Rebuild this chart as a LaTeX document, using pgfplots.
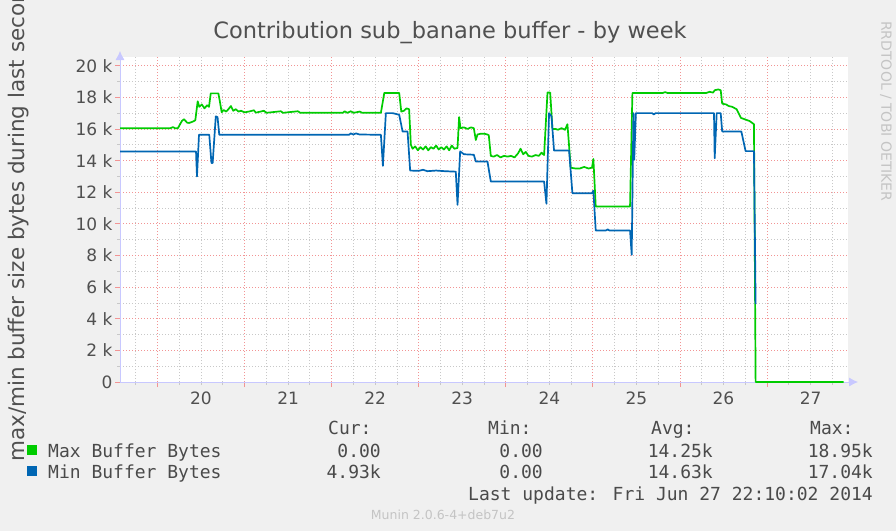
\documentclass[border=0pt]{standalone}
\usepackage{fontspec}
\setmainfont{DejaVu Sans}
\newfontfamily\monofont{DejaVu Sans Mono}
\usepackage{pgfplots}
\pgfplotsset{compat=1.18}
\usetikzlibrary{arrows.meta}
\definecolor{bg}{HTML}{F0F0F0}
\definecolor{maxc}{HTML}{00CC00}
\definecolor{minc}{HTML}{0066B3}
\definecolor{txt}{HTML}{505050}
\definecolor{legtxt}{HTML}{4A4A4A}
\definecolor{axisc}{HTML}{C8C8FF}
\definecolor{mgrid}{HTML}{F29494}
\definecolor{sgrid}{HTML}{C8C8C8}
\definecolor{faint}{HTML}{C4C4C4}

\pgfplotstableread{
d v
19.570 16.05
20.150 16.05
20.179 16.12
20.200 16.05
20.235 16.05
20.280 16.50
20.305 16.62
20.340 16.40
20.362 16.38
20.400 16.45
20.435 16.55
20.462 17.75
20.480 17.40
20.510 17.55
20.540 17.30
20.570 17.50
20.592 17.40
20.612 18.25
20.700 18.25
20.718 17.70
20.738 17.05
20.760 17.20
20.790 17.10
20.815 17.25
20.844 17.45
20.870 17.15
20.900 17.25
20.930 17.10
20.960 17.15
21.000 17.05
21.050 17.10
21.108 17.18
21.130 17.03
21.223 17.15
21.250 17.02
21.418 17.12
21.440 17.02
21.613 17.12
21.640 17.02
22.130 17.02
22.150 17.12
22.180 17.02
22.221 17.12
22.250 17.02
22.325 17.10
22.350 17.02
22.566 17.02
22.605 18.28
22.776 18.28
22.800 17.10
22.830 17.15
22.860 17.30
22.890 17.25
22.910 15.00
22.930 14.75
22.960 14.90
22.990 14.65
23.020 14.85
23.050 14.70
23.080 14.90
23.110 14.65
23.140 14.85
23.170 14.75
23.200 14.95
23.230 14.70
23.260 14.85
23.290 14.70
23.320 14.90
23.350 14.65
23.380 14.95
23.410 14.75
23.446 14.80
23.464 16.75
23.480 16.05
23.520 16.10
23.560 16.00
23.600 16.10
23.633 16.05
23.656 15.30
23.675 15.65
23.713 15.70
23.750 15.70
23.790 15.65
23.805 15.60
23.828 14.30
23.860 14.25
23.900 14.35
23.940 14.20
23.980 14.30
24.020 14.25
24.060 14.30
24.100 14.20
24.140 14.45
24.170 14.75
24.200 14.40
24.230 14.55
24.260 14.30
24.300 14.25
24.340 14.35
24.380 14.30
24.410 14.50
24.440 14.35
24.479 18.30
24.510 18.30
24.536 16.00
24.570 16.00
24.600 15.95
24.640 16.05
24.680 15.95
24.708 16.30
24.746 13.55
24.800 13.50
24.850 13.50
24.900 13.60
24.950 13.50
24.990 13.55
25.006 14.10
25.033 11.10
25.427 11.10
25.454 18.27
25.800 18.27
25.830 18.33
25.860 18.27
26.300 18.27
26.340 18.35
26.380 18.30
26.400 18.45
26.440 18.50
26.468 18.45
26.485 17.60
26.530 17.55
26.560 17.45
26.600 17.40
26.650 17.25
26.700 16.70
26.750 16.60
26.800 16.50
26.850 16.30
26.869 0
27.879 0
}\maxdata

\pgfplotstableread{
d v
19.570 14.58
20.443 14.58
20.454 13.00
20.477 15.63
20.595 15.63
20.620 13.85
20.634 13.85
20.670 16.80
20.690 16.75
20.710 15.63
22.200 15.63
22.220 15.72
22.250 15.65
22.280 15.72
22.320 15.65
22.566 15.63
22.589 13.67
22.623 17.00
22.700 17.00
22.776 16.90
22.815 15.84
22.872 15.84
22.902 13.37
23.000 13.35
23.050 13.42
23.100 13.33
23.200 13.37
23.300 13.33
23.426 13.30
23.446 11.20
23.476 14.58
23.520 14.40
23.633 14.37
23.656 13.94
23.790 13.94
23.828 12.68
24.440 12.68
24.467 11.27
24.497 17.00
24.525 16.80
24.554 14.64
24.727 14.64
24.765 11.94
24.990 11.94
25.006 12.10
25.033 9.58
25.150 9.58
25.170 9.65
25.190 9.58
25.427 9.58
25.446 8.04
25.466 17.00
25.475 14.05
25.494 17.00
25.680 17.00
25.700 16.92
25.720 17.00
26.391 17.00
26.399 14.15
26.422 17.00
26.468 17.00
26.485 15.84
26.705 15.84
26.754 14.60
26.850 14.60
26.869 4.93
}\mindata

\begin{document}
\begin{tikzpicture}[x=1pt,y=1pt]
\fill[bg] (0,0) rectangle (896,531);
\useasboundingbox (0,0) rectangle (896,531);
\begin{scope}
\clip (0,0) rectangle (896,531);
\node[rotate=90, anchor=west, text=txt, inner sep=0pt, font=\fontsize{21.5}{24}\selectfont] at (19,69) {max/min buffer size bytes during last second};
\end{scope}
\node[anchor=base, text=txt, inner sep=0pt, font=\fontsize{22.5}{26}\selectfont] at (450,492.7) {Contribution sub\_banane buffer - by week};
\node[rotate=-90, anchor=west, text=faint, inner sep=0pt, font=\fontsize{14}{16}\selectfont] at (886,510) {RRDTOOL / TOBI OETIKER};

\begin{axis}[
  at={(120pt,149pt)}, anchor=south west,
  scale only axis, width=728pt, height=325pt,
  xmin=19.57, xmax=27.93, ymin=0, ymax=20.55,
  clip=false,
  axis background/.style={fill=white},
  axis lines=left,
  axis line style={draw=axisc, line width=0.8pt},
  x axis line style={-{Latex[length=9pt,width=9pt]}, shorten >=-10pt},
  y axis line style={-{Latex[length=9pt,width=9pt]}, shorten >=-6pt},
  xtick={20,...,27},
  xticklabels={},
  extra x ticks={20.5,21.5,22.5,23.5,24.5,25.5,26.5,27.5},
  extra x tick labels={20,21,22,23,24,25,26,27},
  extra x tick style={grid=none, major tick length=0pt},
  minor xtick={19.75,20.25,20.5,20.75,21.25,21.5,21.75,22.25,22.5,22.75,23.25,23.5,23.75,24.25,24.5,24.75,25.25,25.5,25.75,26.25,26.5,26.75,27.25,27.5,27.75},
  ytick={0,2,...,20},
  yticklabels={0,2 k,4 k,6 k,8 k,10 k,12 k,14 k,16 k,18 k,20 k},
  minor ytick={1,3,...,19},
  grid=both,
  major grid style={draw=mgrid, line width=0.8pt, dash pattern=on 1pt off 2pt},
  minor grid style={draw=sgrid, line width=0.8pt, dash pattern=on 1pt off 2pt},
  every major tick/.style={draw=mgrid, line width=0.8pt},
  every minor tick/.style={draw=sgrid, line width=0.8pt},
  major tick length=5pt, minor tick length=3pt,
  tick align=outside,
  /pgf/number format/assume math mode=true,
  tick label style={font=\fontsize{17}{20}\selectfont, text=txt},
  xticklabel style={yshift=-6pt},
  yticklabel style={xshift=1pt},
]
\addplot[maxc, line width=1.7pt, no marks, line join=round] table[x=d, y=v] {\maxdata};
\addplot[minc, line width=1.7pt, no marks, line join=round] table[x=d, y=v] {\mindata};
\end{axis}

% legend
\begin{scope}[every node/.style={inner sep=0pt, text=legtxt, font=\monofont\fontsize{18}{20}\selectfont}]
\node[anchor=base west] at (328,96.5) {Cur:};
\node[anchor=base west] at (488,96.5) {Min:};
\node[anchor=base west] at (651,96.5) {Avg:};
\node[anchor=base west] at (810,96.5) {Max:};
\fill[maxc] (27,76) rectangle (36.5,86);
\fill[minc] (27,55) rectangle (36.5,65);
\node[anchor=base west] at (48,73.5) {Max Buffer Bytes};
\node[anchor=base west] at (48,52.5) {Min Buffer Bytes};
\node[anchor=base east] at (381,73.5) {0.00};
\node[anchor=base east] at (543,73.5) {0.00};
\node[anchor=base east] at (713,73.5) {14.25k};
\node[anchor=base east] at (873,73.5) {18.95k};
\node[anchor=base east] at (381,52.5) {4.93k};
\node[anchor=base east] at (543,52.5) {0.00};
\node[anchor=base east] at (713,52.5) {14.63k};
\node[anchor=base east] at (873,52.5) {17.04k};
\node[anchor=base east] at (873,30.5) {Last update: Fri Jun 27 22:10:02 2014};
\end{scope}
\node[anchor=base, inner sep=0pt, text=faint, font=\fontsize{12.5}{14}\selectfont] at (443,12) {Munin 2.0.6-4+deb7u2};
\end{tikzpicture}
\end{document}
